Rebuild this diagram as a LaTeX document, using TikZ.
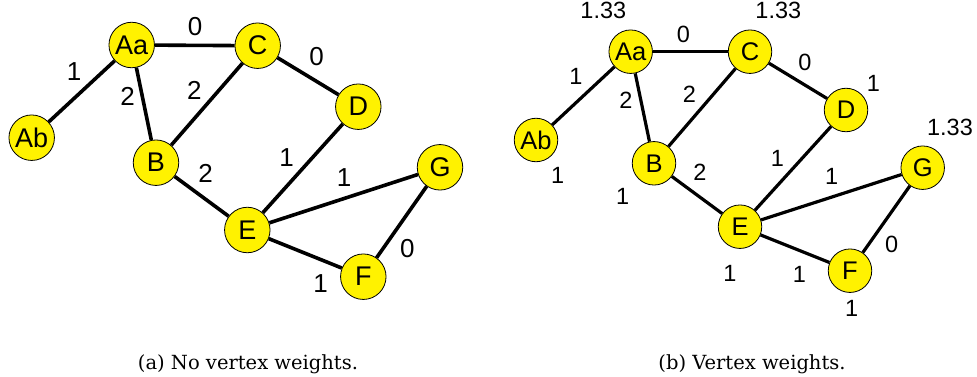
\documentclass[tikz,border=0pt]{standalone}
\usepackage{fontspec}
\newfontfamily\labfont{Liberation Sans}
\newfontfamily\capfont{DejaVu Serif}
\usetikzlibrary{backgrounds}
\tikzset{
  vtx/.style={circle, draw=black, line width=0.8pt, fill=yellow, minimum size=45.5pt, inner sep=0pt, font=\labfont\fontsize{27}{27}\selectfont},
  vtxs/.style={vtx, minimum size=43.5pt, font=\labfont\fontsize{25.5}{25.5}\selectfont},
  edg/.style={line width=3.6pt},
  edgs/.style={line width=3.2pt},
  wt/.style={inner sep=0pt, font=\labfont\fontsize{26}{26}\selectfont},
  wts/.style={inner sep=0pt, font=\labfont\fontsize{23.5}{23.5}\selectfont},
  captxt/.style={inner sep=0pt, anchor=base, font=\capfont\fontsize{19.5}{19.5}\selectfont}
}
\begin{document}
\begin{tikzpicture}[x=1pt,y=-1pt]
\useasboundingbox (0,0) rectangle (977,377);

% ---- (a) graph without vertex weights ----
\node[vtx] (aAa) at (131.7,45) {Aa};
\node[vtx] (aC)  at (257.7,45.7) {C};
\node[vtx] (aAb) at (31.7,137.7) {Ab};
\node[vtx] (aB)  at (156,162.7) {B};
\node[vtx] (aD)  at (358.3,106.7) {D};
\node[vtx] (aG)  at (440,167.3) {G};
\node[vtx] (aE)  at (247.3,230) {E};
\node[vtx] (aF)  at (363.3,276.7) {F};
\begin{scope}[on background layer]
\draw[edg] (aAa) -- (aAb);
\draw[edg] (aAa) -- (aC);
\draw[edg] (aAa) -- (aB);
\draw[edg] (aB) -- (aC);
\draw[edg] (aC) -- (aD);
\draw[edg] (aB) -- (aE);
\draw[edg] (aE) -- (aD);
\draw[edg] (aE) -- (aG);
\draw[edg] (aE) -- (aF);
\draw[edg] (aF) -- (aG);
\end{scope}
\node[wt] (awAaAb) at (74,71.7) {1};
\node[wt] (awAaB)  at (127.7,96.7) {2};
\node[wt] (awAaC)  at (195,26.7) {0};
\node[wt] (awBC)   at (194.3,90) {2};
\node[wt] (awCD)   at (316.7,56.7) {0};
\node[wt] (awBE)   at (205.7,173.3) {2};
\node[wt] (awED)   at (286.7,157.7) {1};
\node[wt] (awEG)   at (344,177.3) {1};
\node[wt] (awEF)   at (320.7,283.3) {1};
\node[wt] (awFG)   at (407.3,248.3) {0};
\node[captxt] (capa) at (248,369.3) {(a) No vertex weights.};

% ---- (b) graph with vertex weights ----
\node[vtxs] (bAa) at (630.7,51.7) {Aa};
\node[vtxs] (bC)  at (750,51.7) {C};
\node[vtxs] (bAb) at (536,140) {Ab};
\node[vtxs] (bB)  at (654,163.3) {B};
\node[vtxs] (bD)  at (846,110) {D};
\node[vtxs] (bG)  at (922.7,167.7) {G};
\node[vtxs] (bE)  at (740,226.7) {E};
\node[vtxs] (bF)  at (850,270.7) {F};
\begin{scope}[on background layer]
\draw[edgs] (bAa) -- (bAb);
\draw[edgs] (bAa) -- (bC);
\draw[edgs] (bAa) -- (bB);
\draw[edgs] (bB) -- (bC);
\draw[edgs] (bC) -- (bD);
\draw[edgs] (bB) -- (bE);
\draw[edgs] (bE) -- (bD);
\draw[edgs] (bE) -- (bG);
\draw[edgs] (bE) -- (bF);
\draw[edgs] (bF) -- (bG);
\end{scope}
\node[wts] (bwAaAb) at (576,76) {1};
\node[wts] (bwAaB)  at (626,100) {2};
\node[wts] (bwAaC)  at (683.3,34.3) {0};
\node[wts] (bwBC)   at (689.3,94.3) {2};
\node[wts] (bwCD)   at (805,62.3) {0};
\node[wts] (bwBE)   at (700,172.7) {2};
\node[wts] (bwED)   at (777.3,158.3) {1};
\node[wts] (bwEG)   at (831.7,176.7) {1};
\node[wts] (bwEF)   at (799.3,274) {1};
\node[wts] (bwFG)   at (891.7,244) {0};
% vertex weights
\node[wts] (bvAa) at (603.3,10.7) {1.33};
\node[wts] (bvC)  at (778.3,10.7) {1.33};
\node[wts] (bvD)  at (873.3,83.3) {1};
\node[wts] (bvG)  at (950,127.3) {1.33};
\node[wts] (bvAb) at (557.7,175) {1};
\node[wts] (bvB)  at (622.7,196.7) {1};
\node[wts] (bvE)  at (730,273.3) {1};
\node[wts] (bvF)  at (851.7,308.3) {1};
\node[captxt] (capb) at (752,369.3) {(b) Vertex weights.};
\end{tikzpicture}
\end{document}
